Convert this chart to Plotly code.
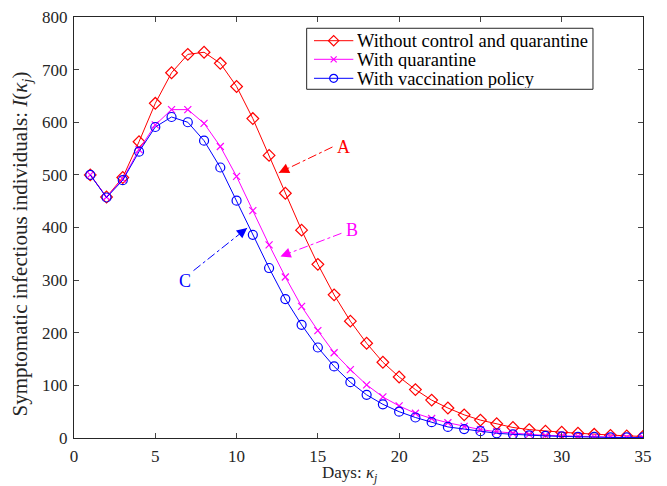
import plotly.graph_objects as go

days = list(range(1, 36))
no_control = [500, 458, 495, 563, 636, 694, 729, 733, 712, 668, 607, 537, 465, 395, 330,
              272, 222, 180, 144, 116, 92, 72, 57, 44, 34, 27, 20, 16, 13, 11, 9, 7, 5, 4, 3]
quarantine = [500, 458, 492, 548, 595, 624, 624, 598, 554, 497, 432, 367, 306, 250, 204,
              162, 130, 101, 78, 61, 47, 37, 29, 22, 16, 12, 9, 7, 5, 4, 3, 2, 2, 1, 1]
vaccination = [500, 457, 490, 544, 591, 610, 600, 565, 514, 451, 386, 323, 264, 215, 172,
               136, 106, 82, 64, 50, 39, 30, 21, 17, 13, 9, 7, 5, 4, 3, 2, 2, 1, 1, 1]

series_names = ["Without control and quarantine", "With quarantine", "With vaccination policy"]
colors = ["#ff0000", "#ff00ff", "#0000ff"]
symbols = ["diamond-open", "x-thin-open", "circle-open"]
marker_sizes = [9, 7, 9]
legend_marker_sizes = [8, 6, 8]

x_title = "Days: <i>κ<sub>j</sub></i>"
y_title = "Symptomatic infectious individuals: <i>I</i>(<i>κ<sub>j</sub></i>)"

# annotation geometry (data coords): label pos, tail, head
labels = ["A", "B", "C"]
label_x = [16.6, 17.1, 6.85]
label_y = [553, 395, 298]
tail_x = [15.9, 16.45, 7.35]
tail_y = [553, 389, 318]
head_x = [12.6, 12.7, 10.65]
head_y = [504, 345, 399]

# legend layout (fractions of the plot area)
leg_box = dict(x0=0.4089, x1=0.9121, y0=0.8283, y1=0.9732)
leg_rows = [0.9437, 0.8995, 0.8544]
leg_line = [0.4218, 0.4909]
leg_text_x = 0.4960

font_family = "Liberation Serif"
axis_color = "#262626"

fig = go.Figure()
for name, vals, c, s, ms in zip(series_names, [no_control, quarantine, vaccination], colors, symbols, marker_sizes):
    fig.add_trace(go.Scatter(
        x=days, y=vals, mode="lines+markers", name=name, showlegend=False,
        line=dict(color=c, width=1),
        marker=dict(symbol=s, size=ms, color=c, line=dict(color=c, width=1.2)),
    ))

for i in range(3):
    fig.add_trace(go.Scatter(
        x=[tail_x[i], head_x[i]], y=[tail_y[i], head_y[i]], mode="lines",
        line=dict(color=colors[i], width=1, dash="dashdot"),
        showlegend=False, hoverinfo="skip"))
    dx = head_x[i] - tail_x[i]
    dy = head_y[i] - tail_y[i]
    fig.add_annotation(
        x=head_x[i], y=head_y[i], ax=head_x[i] - dx * 0.12, ay=head_y[i] - dy * 0.12,
        xref="x", yref="y", axref="x", ayref="y", text="",
        showarrow=True, arrowhead=2, arrowsize=1.7, arrowwidth=1.2, arrowcolor=colors[i])
    fig.add_annotation(
        x=label_x[i], y=label_y[i], xref="x", yref="y", text=labels[i], showarrow=False,
        font=dict(family=font_family, size=18, color=colors[i]))

# legend drawn on an overlay axis spanning the plot area
for i in range(3):
    fig.add_trace(go.Scatter(
        x=leg_line, y=[leg_rows[i]] * 2, mode="lines", xaxis="x2", yaxis="y2",
        line=dict(color=colors[i], width=1), showlegend=False, hoverinfo="skip"))
    fig.add_trace(go.Scatter(
        x=[(leg_line[0] + leg_line[1]) / 2], y=[leg_rows[i]], mode="markers", xaxis="x2", yaxis="y2",
        marker=dict(symbol=symbols[i], size=legend_marker_sizes[i], color=colors[i],
                    line=dict(color=colors[i], width=1.2)),
        showlegend=False, hoverinfo="skip"))
    fig.add_annotation(
        x=leg_text_x, y=leg_rows[i], xref="x2", yref="y2", text=series_names[i],
        showarrow=False, xanchor="left", yanchor="middle", height=19, borderpad=0,
        font=dict(family=font_family, size=18.5, color="#000000"))
fig.add_shape(type="rect", xref="x2", yref="y2", layer="below",
              line=dict(color=axis_color, width=1), fillcolor="white", **leg_box)

# axis titles placed as text beside the axes
fig.add_annotation(x=0.4842, y=-0.0855, xref="paper", yref="paper", text=x_title,
                   showarrow=False, xanchor="center", yanchor="middle",
                   font=dict(family=font_family, size=17, color=axis_color))
fig.add_annotation(x=-0.0914, y=0.462, xref="paper", yref="paper", text=y_title,
                   showarrow=False, xanchor="center", yanchor="middle", textangle=-90,
                   font=dict(family=font_family, size=21, color=axis_color))

fig.update_layout(
    width=667, height=486,
    margin=dict(l=74, r=24, t=17, b=48),
    paper_bgcolor="white", plot_bgcolor="white",
    font=dict(family=font_family, size=17, color=axis_color),
    showlegend=False,
    xaxis2=dict(overlaying="x", range=[0, 1], visible=False, fixedrange=True),
    yaxis2=dict(overlaying="y", range=[0, 1], visible=False, fixedrange=True),
)
fig.layout.xaxis.update(
    range=[0, 35], tickvals=list(range(0, 36, 5)), ticks="inside", ticklen=5,
    showline=True, linecolor=axis_color, linewidth=1, mirror="ticks",
    showgrid=False, zeroline=False, automargin=False, ticklabelstandoff=3,
    tickfont=dict(family=font_family, size=17, color=axis_color),
)
fig.layout.yaxis.update(
    range=[0, 800], tickvals=list(range(0, 801, 100)), ticks="inside", ticklen=5,
    showline=True, linecolor=axis_color, linewidth=1, mirror="ticks",
    showgrid=False, zeroline=False, automargin=False, ticklabelstandoff=2,
    tickfont=dict(family=font_family, size=17, color=axis_color),
)

fig.write_html("out.html")
